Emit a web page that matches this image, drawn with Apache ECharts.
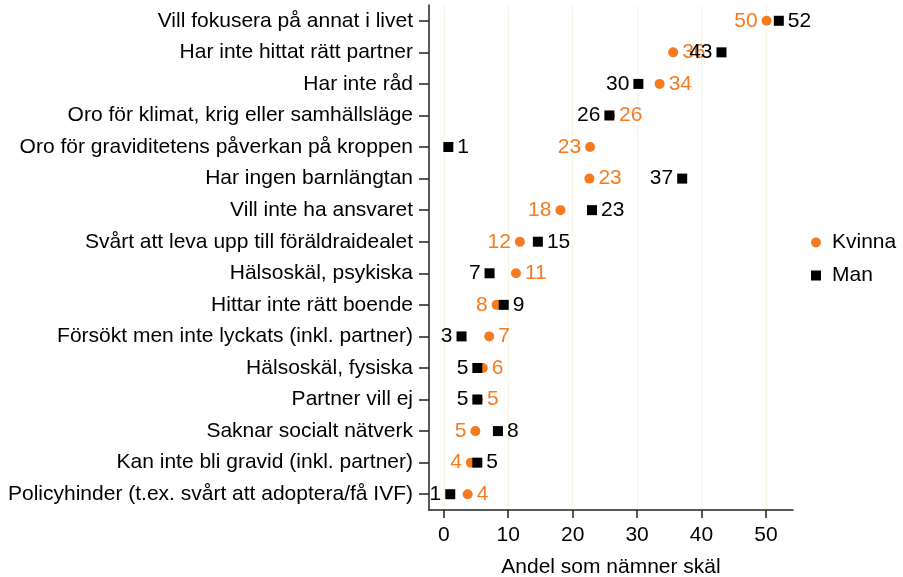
<!DOCTYPE html>
<html>
<head>
<meta charset="utf-8">
<script src="https://cdn.jsdelivr.net/npm/echarts@6/dist/echarts.min.js"></script>
<style>
  html, body { margin: 0; padding: 0; background: #fff; }
  #chart { width: 903px; height: 577px; }
</style>
</head>
<body>
<div id="chart"></div>
<script>
// skäl, uppifrån och ned
var categories = [
  'Vill fokusera på annat i livet',
  'Har inte hittat rätt partner',
  'Har inte råd',
  'Oro för klimat, krig eller samhällsläge',
  'Oro för graviditetens påverkan på kroppen',
  'Har ingen barnlängtan',
  'Vill inte ha ansvaret',
  'Svårt att leva upp till föräldraidealet',
  'Hälsoskäl, psykiska',
  'Hittar inte rätt boende',
  'Försökt men inte lyckats (inkl. partner)',
  'Hälsoskäl, fysiska',
  'Partner vill ej',
  'Saknar socialt nätverk',
  'Kan inte bli gravid (inkl. partner)',
  'Policyhinder (t.ex. svårt att adoptera/få IVF)'
];
var kvinna = [50.1, 35.6, 33.5, 25.8, 22.7, 22.6, 18.1, 11.8, 11.2, 8.2, 7.05, 6.05, 5.3, 4.9, 4.2, 3.7];
var man    = [52.0, 43.1, 30.2, 25.7, 0.7, 37.0, 23.0, 14.6, 7.1, 9.3, 2.75, 5.2, 5.2, 8.4, 5.2, 1.0];
var xTicks = [0, 10, 20, 30, 40, 50];

// vilken sida etiketten står på
var kvinnaSide = ['left','right','right','right','left','right','left','left','right','left','right','right','right','left','left','right'];
var manSide    = ['right','left','left','left','right','left','right','right','left','right','left','left','left','right','right','left'];

var ORANGE = '#f47b20';
var font = 'Liberation Sans, Arial, sans-serif';
var FS = 21;

function points(vals, sides) {
  return vals.map(function (v, i) {
    return {
      value: [v, categories[i]],
      label: { position: sides[i] }
    };
  });
}

var chart = echarts.init(document.getElementById('chart'), null, { renderer: 'canvas' });
chart.setOption({
  animation: false,
  backgroundColor: '#fff',
  textStyle: { fontFamily: font },
  grid: { left: 429, right: 110, top: 5, bottom: 67, outerBoundsMode: 'none', containLabel: false },
  legend: {
    orient: 'vertical',
    left: 806,
    top: 227,
    itemWidth: 22,
    itemHeight: 10,
    itemGap: 12,
    textStyle: { fontSize: FS, color: '#000', fontFamily: font },
    data: [
      { name: 'Kvinna', icon: 'circle', itemStyle: { color: ORANGE, opacity: 1 } },
      { name: 'Man', icon: 'path://M6,0H16V10H6Z', itemStyle: { color: '#000', opacity: 1 } }
    ]
  },
  xAxis: {
    type: 'value',
    min: -2.3,
    max: 54.2,
    interval: 10,
    name: 'Andel som nämner skäl',
    nameLocation: 'middle',
    nameGap: 47,
    nameTextStyle: { fontSize: FS, color: '#000', fontFamily: font },
    axisLine: { show: true, onZero: false, lineStyle: { color: '#222', width: 1.5 } },
    axisTick: { show: true, inside: false, length: 8, lineStyle: { color: '#222', width: 1.5 },
      customValues: xTicks },
    axisLabel: { fontSize: FS, color: '#000', margin: 15, fontFamily: font,
      customValues: xTicks },
    splitLine: { show: true, lineStyle: { color: '#f8f4e4', width: 1 } }
  },
  yAxis: {
    type: 'category',
    inverse: true,
    data: categories,
    boundaryGap: true,
    axisLine: { show: true, onZero: false, lineStyle: { color: '#222', width: 1.5 } },
    axisTick: { show: true, alignWithLabel: true, length: 10, lineStyle: { color: '#222', width: 1.5 } },
    axisLabel: { fontSize: FS, color: '#000', margin: 16, fontFamily: font },
    splitLine: { show: false }
  },
  series: [
    {
      name: 'Kvinna',
      type: 'scatter',
      symbol: 'circle',
      symbolSize: 10,
      itemStyle: { color: ORANGE, opacity: 1 },
      label: {
        show: true,
        fontSize: FS,
        color: ORANGE,
        distance: 4,
        fontFamily: font,
        formatter: function (p) { return Math.round(p.value[0]); }
      },
      data: points(kvinna, kvinnaSide),
      z: 2
    },
    {
      name: 'Man',
      type: 'scatter',
      symbol: 'rect',
      symbolSize: 10,
      itemStyle: { color: '#000', opacity: 1 },
      label: {
        show: true,
        fontSize: FS,
        color: '#000',
        distance: 4,
        fontFamily: font,
        formatter: function (p) { return Math.round(p.value[0]); }
      },
      data: points(man, manSide),
      z: 3
    }
  ]
});
</script>
</body>
</html>
